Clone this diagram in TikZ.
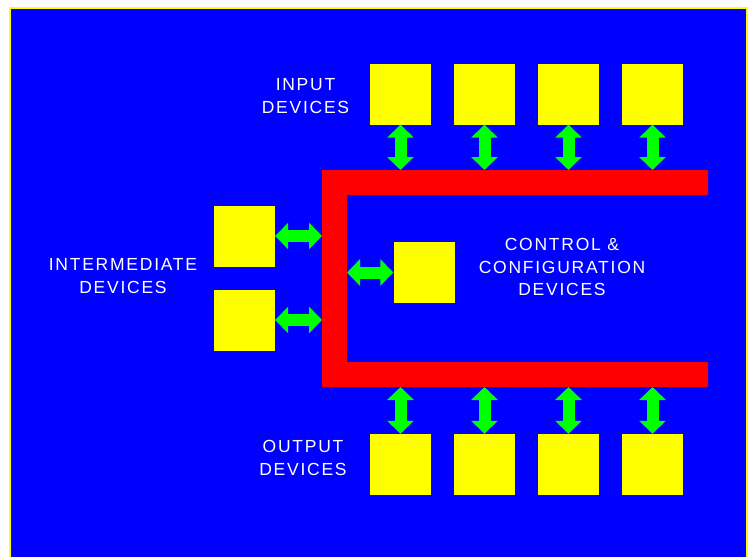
\documentclass[tikz,border=0pt]{standalone}
\usepackage{fontspec}
\usetikzlibrary{arrows.meta, positioning}
\newfontfamily\devfont[LetterSpace=10]{Liberation Sans}
\definecolor{panelblue}{RGB}{0,0,255}
\definecolor{boxyellow}{RGB}{255,255,0}
\definecolor{busred}{RGB}{255,0,0}
\definecolor{linkgreen}{RGB}{0,255,0}

\begin{document}
\begin{tikzpicture}[
    x=1pt, y=-1pt,
    device/.style={rectangle, fill=boxyellow, minimum size=61pt, inner sep=0pt},
    label/.style={text=white, align=center, inner sep=0pt, font=\devfont\fontsize{17.5}{22.5}\selectfont},
    link/.style={draw=linkgreen, line width=12pt,
        {Triangle[width=26pt,length=13pt]}-{Triangle[width=26pt,length=13pt]}}
]
    \useasboundingbox (0,0) rectangle (749,557);
    \fill[white] (0,0) rectangle (749,557);

    % --- Panel ---
    \fill[panelblue] (10,8) rectangle (747,557);
    \draw[boxyellow, line width=2pt] (10,557) -- (10,8) -- (747,8) -- (747,557);

    % --- Bus ---
    \fill[busred] (708,170) -- (322,170) -- (322,387) -- (708,387) -- (708,362)
        -- (347,362) -- (347,195) -- (708,195) -- cycle;
    \coordinate (bustop) at (0,170);
    \coordinate (busbot) at (0,387);
    \coordinate (busleft) at (322,0);
    \coordinate (busright) at (347,0);

    % --- Input devices ---
    \node[device] (in1) at (400.5,94) {};
    \node[device] (in2) at (484.5,94) {};
    \node[device] (in3) at (568.5,94) {};
    \node[device] (in4) at (652.5,94) {};
    \node[label] (inlabel) at (305.5,96) {INPUT\\DEVICES};

    % --- Output devices ---
    \node[device] (out1) at (400.5,464.5) {};
    \node[device] (out2) at (484.5,464.5) {};
    \node[device] (out3) at (568.5,464.5) {};
    \node[device] (out4) at (652.5,464.5) {};
    \node[label] (outlabel) at (303,458) {OUTPUT\\DEVICES};

    % --- Intermediate devices ---
    \node[device] (mid1) at (244.5,236) {};
    \node[device] (mid2) at (244.5,320) {};
    \node[label] (midlabel) at (123,276) {INTERMEDIATE\\DEVICES};

    % --- Control & configuration ---
    \node[device] (ctrl) at (424,272.5) {};
    \node[label] (ctrllabel) at (562,267) {CONTROL \&\\CONFIGURATION\\DEVICES};

    % Links to the bus
    \draw[link] (in1.south) -- (in1.south |- bustop);
    \draw[link] (in2.south) -- (in2.south |- bustop);
    \draw[link] (in3.south) -- (in3.south |- bustop);
    \draw[link] (in4.south) -- (in4.south |- bustop);
    \draw[link] (out1.north) -- (out1.north |- busbot);
    \draw[link] (out2.north) -- (out2.north |- busbot);
    \draw[link] (out3.north) -- (out3.north |- busbot);
    \draw[link] (out4.north) -- (out4.north |- busbot);
    \draw[link] (mid1.east) -- (mid1.east -| busleft);
    \draw[link] (mid2.east) -- (mid2.east -| busleft);
    \draw[link] (ctrl.west) -- (ctrl.west -| busright);

\end{tikzpicture}
\end{document}
